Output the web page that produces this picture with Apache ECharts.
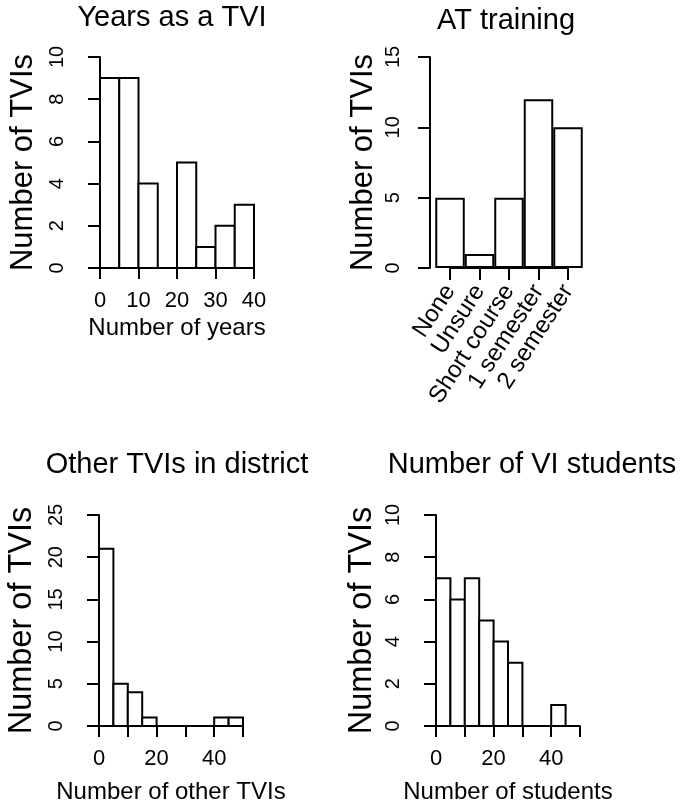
<!DOCTYPE html>
<html>
<head>
<meta charset="utf-8">
<script src="https://cdn.jsdelivr.net/npm/echarts@6/dist/echarts.min.js"></script>
<style>
html,body{margin:0;padding:0;background:#fff;}
#chart{width:685px;height:806px;}
</style>
</head>
<body>
<div id="chart"></div>
<script>
// ---- Data ----
const titles = ['Years as a TVI', 'AT training', 'Other TVIs in district', 'Number of VI students'];
const xTitles = ['Number of years', '', 'Number of other TVIs', 'Number of students'];
const yTitle = 'Number of TVIs';

const yearsEdges = [0, 5, 10, 15, 20, 25, 30, 35, 40];
const yearsCounts = [9, 9, 4, 0, 5, 1, 2, 3];
const yearsXTicks = [0, 10, 20, 30, 40];
const yearsYTicks = [0, 2, 4, 6, 8, 10];

const atCategories = ['None', 'Unsure', 'Short course', '1 semester', '2 semester'];
const atCounts = [5, 1, 5, 12, 10];
const atYTicks = [0, 5, 10, 15];

const otherEdges = [0, 5, 10, 15, 20, 25, 30, 35, 40, 45, 50];
const otherCounts = [21, 5, 4, 1, 0, 0, 0, 0, 1, 1];
const otherXTicks = [0, 10, 20, 30, 40, 50];
const otherXLabels = [0, 20, 40];
const otherYTicks = [0, 5, 10, 15, 20, 25];

const studentEdges = [0, 5, 10, 15, 20, 25, 30, 35, 40, 45];
const studentCounts = [7, 6, 7, 5, 4, 3, 0, 0, 1];
const studentXTicks = [0, 10, 20, 30, 40, 50];
const studentXLabels = [0, 20, 40];
const studentYTicks = [0, 2, 4, 6, 8, 10];

// ---- Styling ----
const FONT = '"Liberation Sans", Arial, Helvetica, sans-serif';
const BLACK = '#000';
const LW = 2;

function histData(edges, counts) {
  return counts.map((c, i) => [edges[i], edges[i + 1], c]);
}

function valueXAxis(gi, ticks, labels, name, offset, nameGap) {
  return {
    type: 'value', gridIndex: gi,
    min: ticks[0], max: ticks[ticks.length - 1], interval: ticks[1] - ticks[0],
    offset: offset,
    axisLine: {show: true, lineStyle: {color: BLACK, width: LW}},
    axisTick: {show: true, length: 11, lineStyle: {color: BLACK, width: LW}},
    splitLine: {show: false},
    axisLabel: {
      color: BLACK, fontFamily: FONT, fontSize: 22, margin: 13,
      formatter: v => (labels ? (labels.indexOf(v) >= 0 ? String(v) : '') : String(v))
    },
    name: name, nameLocation: 'middle', nameGap: nameGap,
    nameTextStyle: {color: BLACK, fontFamily: FONT, fontSize: 24}
  };
}

function valueYAxis(gi, ticks, offset, nameGap, nameSize) {
  return {
    type: 'value', gridIndex: gi,
    min: ticks[0], max: ticks[ticks.length - 1], interval: ticks[1] - ticks[0],
    offset: offset,
    axisLine: {show: true, lineStyle: {color: BLACK, width: LW}},
    axisTick: {show: true, length: 12, lineStyle: {color: BLACK, width: LW}},
    splitLine: {show: false},
    axisLabel: {color: BLACK, fontFamily: FONT, fontSize: 20, margin: 27, rotate: 90},
    name: yTitle, nameLocation: 'middle', nameGap: nameGap,
    nameTextStyle: {color: BLACK, fontFamily: FONT, fontSize: nameSize}
  };
}

function histSeries(gi, edges, counts) {
  return {
    type: 'custom', xAxisIndex: gi, yAxisIndex: gi,
    clip: false, silent: true,
    encode: {x: [0, 1], y: 2},
    data: histData(edges, counts),
    renderItem: function (params, api) {
      const p0 = api.coord([api.value(0), api.value(2)]);
      const p1 = api.coord([api.value(1), 0]);
      return {
        type: 'rect',
        shape: {x: p0[0], y: p0[1], width: p1[0] - p0[0], height: Math.max(p1[1] - p0[1], 0.01)},
        style: {fill: '#fff', stroke: BLACK, lineWidth: LW}
      };
    }
  };
}

const titleSpecs = [
  {x: 172, y: 18}, {x: 506, y: 21}, {x: 177, y: 465}, {x: 532, y: 465}
];

const option = {
  backgroundColor: '#fff',
  animation: false,
  grid: [
    {left: 100, top: 57, width: 154, height: 211, outerBoundsMode: 'none'},
    {left: 450, top: 57, width: 118, height: 211, outerBoundsMode: 'none'},
    {left: 99, top: 515, width: 144, height: 211, outerBoundsMode: 'none'},
    {left: 436, top: 515, width: 144, height: 211, outerBoundsMode: 'none'}
  ],
  xAxis: [
    valueXAxis(0, yearsXTicks, null, xTitles[0], 9, 39),
    {
      type: 'category', gridIndex: 1, data: atCategories, boundaryGap: false,
      offset: 7,
      axisLine: {show: true, lineStyle: {color: BLACK, width: LW}},
      axisTick: {show: true, length: 12, lineStyle: {color: BLACK, width: LW}},
      splitLine: {show: false},
      axisLabel: {color: BLACK, fontFamily: FONT, fontSize: 24, rotate: 57, margin: 12, interval: 0}
    },
    valueXAxis(2, otherXTicks, otherXLabels, xTitles[2], 9, 45),
    valueXAxis(3, studentXTicks, studentXLabels, xTitles[3], 9, 45)
  ],
  yAxis: [
    valueYAxis(0, yearsYTicks, 6, 55, 31),
    valueYAxis(1, atYTicks, 20, 51, 31),
    valueYAxis(2, otherYTicks, 6, 54, 32.5),
    valueYAxis(3, studentYTicks, 6, 51, 32.5)
  ],
  series: [
    histSeries(0, yearsEdges, yearsCounts),
    {
      type: 'bar', xAxisIndex: 1, yAxisIndex: 1, data: atCounts,
      barCategoryGap: '0%', clip: false, silent: true,
      itemStyle: {color: '#fff', borderColor: BLACK, borderWidth: LW}
    },
    histSeries(2, otherEdges, otherCounts),
    histSeries(3, studentEdges, studentCounts)
  ],
  graphic: titles.map((t, i) => ({
    type: 'text', x: titleSpecs[i].x, y: titleSpecs[i].y, silent: true,
    style: {text: t, fill: BLACK, font: '29px ' + FONT, textAlign: 'center', textVerticalAlign: 'middle'}
  }))
};

const chart = echarts.init(document.getElementById('chart'));
chart.setOption(option);
</script>
</body>
</html>
